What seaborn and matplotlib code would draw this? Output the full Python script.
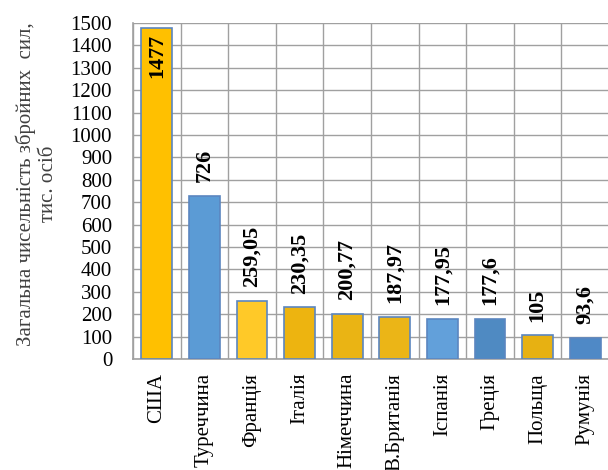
import matplotlib
matplotlib.use("Agg")
import matplotlib.pyplot as plt
import seaborn as sns
import pandas as pd
import numpy as np

# --- data ---
countries = ["США", "Туреччина", "Франція", "Італія", "Німеччина",
             "В.Британія", "Іспанія", "Греція", "Польща", "Румунія"]
troops = [1477, 726, 259.05, 230.35, 200.77, 187.97, 177.95, 177.6, 105, 93.6]
bar_colors = ["#FFC000", "#5B9BD5", "#FFC928", "#EDB410", "#EAB414",
              "#EBB517", "#62A0DA", "#4F8AC2", "#E7B112", "#4F89C6"]

y_label = "Загальна чисельність збройних  сил,\nтис. осіб"


def fmt(v):
    # Ukrainian decimal comma
    s = f"{v:g}"
    return s.replace(".", ",")


df = pd.DataFrame({"country": countries, "troops": troops})

sns.set_theme(style="white")
plt.rcParams["font.family"] = ["Liberation Serif", "DejaVu Serif"]

fig = plt.figure(figsize=(6.08, 4.70), dpi=100)
ax = fig.add_axes([133 / 608, 1 - 359 / 470, 476 / 608, 336 / 470])

sns.barplot(data=df, x="country", y="troops", hue="country",
            palette=bar_colors, legend=False, width=0.65, saturation=1,
            edgecolor="#5B86C0", linewidth=1.2, ax=ax, zorder=3)

ax.set_ylim(0, 1500)
ax.set_xlim(-0.5, len(countries) - 0.5)
ax.set_yticks(np.arange(0, 1501, 100))

# grid: horizontal at each 100, vertical at category boundaries
ax.set_xticks(np.arange(-0.5, len(countries), 1), minor=True)
ax.grid(axis="y", which="major", color="#A0A0A0", linewidth=1, zorder=0)
ax.grid(axis="x", which="minor", color="#A0A0A0", linewidth=1, zorder=0)
ax.tick_params(axis="both", which="both", length=0)
ax.tick_params(axis="y", labelsize=15, labelcolor="black", pad=15)
ax.tick_params(axis="x", labelsize=15, labelcolor="black", pad=10,
               labelrotation=90)

for side in ["top", "right"]:
    ax.spines[side].set_visible(False)
for side in ["left", "bottom"]:
    ax.spines[side].set_color("#A0A0A0")
    ax.spines[side].set_linewidth(1.2)

ax.set_xlabel("")
ax.set_ylabel("")

# value labels
for i, v in enumerate(troops):
    if v > 1300:
        ax.annotate(fmt(v), (i, v), xytext=(0, -4), textcoords="offset points",
                    rotation=90, ha="center", va="top", fontsize=16,
                    fontweight="bold", color="black", zorder=5)
    else:
        ax.annotate(fmt(v), (i, v), xytext=(0, 10), textcoords="offset points",
                    rotation=90, ha="center", va="bottom", fontsize=16,
                    fontweight="bold", color="black", zorder=5)

fig.text(37 / 608, 1 - 184 / 470, y_label, rotation=90, ha="center",
         va="center", multialignment="center", fontsize=15, color="#404040")

fig.savefig("out.png", dpi=100)
